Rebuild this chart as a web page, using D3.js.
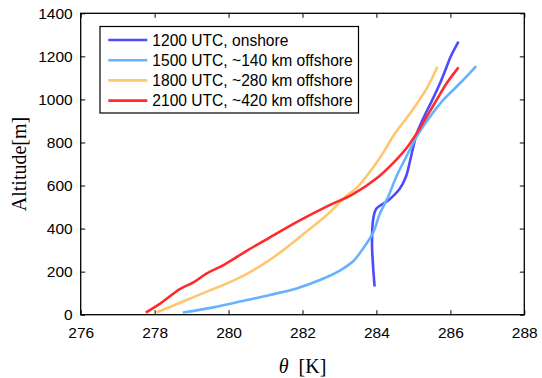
<!DOCTYPE html>
<html>
<head>
<meta charset="utf-8">
<script src="https://cdn.jsdelivr.net/npm/d3@7"></script>
<style>
  html, body { margin: 0; padding: 0; background: #fff; }
  svg { display: block; }
</style>
</head>
<body>
<script>
// Potential temperature profiles, θ [K] against altitude [m]
const seriesLabels = [
  "1200 UTC, onshore",
  "1500 UTC, ~140 km offshore",
  "1800 UTC, ~280 km offshore",
  "2100 UTC, ~420 km offshore"
];
const seriesColors = ["#4b4bff", "#66b2ff", "#ffc670", "#ff2a2a"];

const theta1200 = [283.95, 283.90, 283.88, 283.91, 284.00, 284.30, 284.63, 284.80, 284.90, 284.99, 285.09, 285.27, 285.49, 285.72, 285.90, 286.01, 286.22];
const alt1200   = [131, 250, 333, 441, 493, 528, 585, 642, 708, 775, 840, 913, 990, 1075, 1152, 1199, 1268];

const theta1500 = [278.76, 279.59, 280.49, 281.12, 281.84, 282.47, 283.01, 283.37, 283.64, 283.91, 284.09, 284.32, 284.54, 284.81, 285.09, 285.45, 285.81, 286.26, 286.70];
const alt1500   = [10, 34, 68, 92, 122, 161, 205, 248, 308, 380, 468, 549, 642, 735, 828, 920, 998, 1075, 1155];

const theta1800 = [278.05, 278.86, 279.41, 280.13, 280.85, 281.48, 282.11, 282.65, 283.19, 283.46, 283.91, 284.19, 284.50, 284.91, 285.36, 285.65];
const alt1800   = [10, 68, 107, 158, 225, 300, 386, 462, 552, 588, 684, 755, 842, 935, 1051, 1152];

const theta2100 = [277.76, 278.14, 278.68, 279.05, 279.41, 279.90, 280.49, 281.03, 281.84, 282.65, 283.37, 284.05, 284.45, 284.81, 285.09, 285.36, 285.63, 285.90, 286.22];
const alt2100   = [10, 50, 119, 150, 192, 234, 297, 350, 430, 502, 560, 640, 704, 773, 843, 920, 998, 1075, 1149];

const xTicks = [276, 278, 280, 282, 284, 286, 288];
const yTicks = [0, 200, 400, 600, 800, 1000, 1200, 1400];

const W = 542, H = 378;
const plot = { left: 80.7, right: 524.3, top: 13.3, bottom: 314.7 };

const svg = d3.select("body").append("svg")
  .attr("width", W).attr("height", H)
  .attr("viewBox", `0 0 ${W} ${H}`);

svg.append("rect").attr("width", W).attr("height", H).attr("fill", "#fff");

const x = d3.scaleLinear().domain([276, 288]).range([plot.left, plot.right]);
const y = d3.scaleLinear().domain([0, 1400]).range([plot.bottom, plot.top]);

const tickFont = "Liberation Sans, Arial, Helvetica, sans-serif";

// Axes: inward ticks on all four sides, labels on bottom and left
function styleAxis(g) {
  g.select(".domain").remove();
  g.selectAll(".tick line").attr("stroke", "#000").attr("stroke-width", 1);
  g.selectAll(".tick text")
    .attr("fill", "#000")
    .style("font-family", tickFont)
    .style("font-size", "15.5px");
}

svg.append("g")
  .attr("transform", `translate(0,${plot.bottom})`)
  .call(d3.axisBottom(x).tickValues(xTicks).tickSizeInner(-4.5).tickSizeOuter(0).tickPadding(12.5).tickFormat(d3.format("d")))
  .call(styleAxis);

svg.append("g")
  .attr("transform", `translate(0,${plot.top})`)
  .call(d3.axisTop(x).tickValues(xTicks).tickSizeInner(-4.5).tickSizeOuter(0).tickFormat(""))
  .call(styleAxis);

svg.append("g")
  .attr("transform", `translate(${plot.left},0)`)
  .call(d3.axisLeft(y).tickValues(yTicks).tickSizeInner(-4.5).tickSizeOuter(0).tickPadding(8).tickFormat(d3.format("d")))
  .call(styleAxis);

svg.append("g")
  .attr("transform", `translate(${plot.right},0)`)
  .call(d3.axisRight(y).tickValues(yTicks).tickSizeInner(-4.5).tickSizeOuter(0).tickFormat(""))
  .call(styleAxis);

// Profiles
const series = [
  { label: seriesLabels[0], color: seriesColors[0], theta: theta1200, alt: alt1200 },
  { label: seriesLabels[1], color: seriesColors[1], theta: theta1500, alt: alt1500 },
  { label: seriesLabels[2], color: seriesColors[2], theta: theta1800, alt: alt1800 },
  { label: seriesLabels[3], color: seriesColors[3], theta: theta2100, alt: alt2100 }
];

const line = d3.line()
  .x(d => x(d[0]))
  .y(d => y(d[1]))
  .curve(d3.curveCatmullRom.alpha(0.5));

svg.append("g").selectAll("path")
  .data(series)
  .join("path")
  .attr("d", s => line(s.theta.map((t, i) => [t, s.alt[i]])))
  .attr("fill", "none")
  .attr("stroke", s => s.color)
  .attr("stroke-width", 2.6)
  .attr("stroke-linejoin", "round")
  .attr("stroke-linecap", "butt");

// Frame
svg.append("rect")
  .attr("x", plot.left).attr("y", plot.top)
  .attr("width", plot.right - plot.left).attr("height", plot.bottom - plot.top)
  .attr("fill", "none").attr("stroke", "#000").attr("stroke-width", 1.3);

// Legend
const leg = svg.append("g");
const legBox = { x: 100, y: 26.5, w: 258.5, h: 86.5 };
leg.append("rect")
  .attr("x", legBox.x).attr("y", legBox.y)
  .attr("width", legBox.w).attr("height", legBox.h)
  .attr("fill", "#fff").attr("stroke", "#000").attr("stroke-width", 1.2);

const legRows = leg.selectAll("g.row")
  .data(series)
  .join("g")
  .attr("class", "row")
  .attr("transform", (d, i) => `translate(0,${40 + i * 20.2})`);

legRows.append("line")
  .attr("x1", 108.3).attr("x2", 147.3)
  .attr("y1", 0).attr("y2", 0)
  .attr("stroke", d => d.color)
  .attr("stroke-width", 2.6);

legRows.append("text")
  .attr("x", 152.3).attr("y", 0).attr("dy", "0.36em")
  .style("font-family", tickFont)
  .style("font-size", "15.6px")
  .attr("fill", "#000")
  .text(d => d.label);

// Axis titles
const serif = "Liberation Serif, Times New Roman, serif";
const xTitle = svg.append("text")
  .attr("x", (plot.left + plot.right) / 2)
  .attr("y", 373)
  .attr("text-anchor", "middle")
  .style("font-family", serif)
  .style("font-size", "20px")
  .attr("fill", "#000")
  .attr("xml:space", "preserve");
xTitle.append("tspan").style("font-style", "italic").text("θ");
xTitle.append("tspan").text("  [K]");

svg.append("text")
  .attr("transform", `translate(26,${(plot.top + plot.bottom) / 2}) rotate(-90)`)
  .attr("text-anchor", "middle")
  .style("font-family", serif)
  .style("font-size", "20px")
  .attr("fill", "#000")
  .text("Altitude[m]");
</script>
</body>
</html>
